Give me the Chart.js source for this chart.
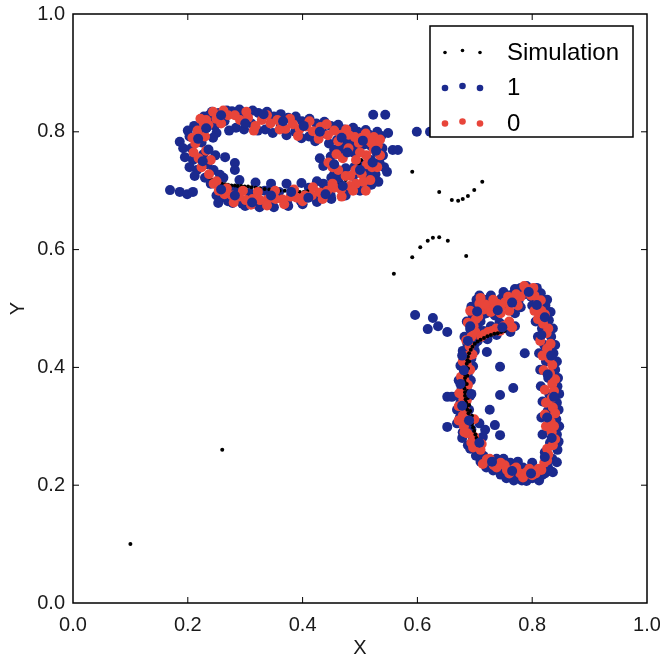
<!DOCTYPE html>
<html>
<head>
<meta charset="utf-8">
<script src="https://cdn.jsdelivr.net/npm/chart.js@4.4.1/dist/chart.umd.min.js"></script>
<style>
  html, body { margin: 0; padding: 0; background: #fff; }
  canvas { display: block; }
</style>
</head>
<body>
<canvas id="chart" width="660" height="660"></canvas>
<script>
const tickValues = [0, 0.2, 0.4, 0.6, 0.8, 1];
const seriesNames = ["Simulation", "1", "0"];
const seriesColors = ["#000000", "#1b2a8e", "#e8453a"];

// simulated trajectory: two lone points, the two arcs and the trace inside the lower loop
const simulation = [
  [0.1, 0.1], [0.26, 0.26],
  [0.591, 0.732], [0.638, 0.698], [0.660, 0.684], [0.671, 0.683], [0.679, 0.686], [0.688, 0.691],
  [0.699, 0.701], [0.713, 0.715],
  [0.559, 0.559], [0.591, 0.587], [0.605, 0.604], [0.618, 0.615], [0.627, 0.620], [0.638, 0.621],
  [0.653, 0.615], [0.685, 0.589],
  [0.752, 0.462], [0.746, 0.460], [0.740, 0.458], [0.734, 0.457], [0.728, 0.455], [0.722, 0.453],
  [0.716, 0.450], [0.710, 0.447], [0.705, 0.444], [0.700, 0.440], [0.696, 0.435], [0.693, 0.430],
  [0.690, 0.424], [0.688, 0.418], [0.687, 0.412], [0.686, 0.406], [0.685, 0.400], [0.684, 0.394],
  [0.683, 0.388], [0.683, 0.382], [0.682, 0.376], [0.682, 0.370], [0.682, 0.364], [0.683, 0.358],
  [0.683, 0.352], [0.684, 0.346], [0.685, 0.340], [0.686, 0.334], [0.687, 0.328], [0.689, 0.322],
  [0.691, 0.316], [0.693, 0.310], [0.695, 0.304], [0.697, 0.298], [0.699, 0.292], [0.701, 0.286],
  [0.703, 0.280], [0.705, 0.274], [0.708, 0.268],
  [0.690, 0.410], [0.688, 0.398], [0.687, 0.386], [0.686, 0.372], [0.687, 0.360], [0.688, 0.348],
  [0.690, 0.336], [0.692, 0.326], [0.695, 0.318]
];

// simulated trace running along the inside of the upper loop (partly hidden by the markers)
const simulationUpper = [
  [0.238, 0.722], [0.243, 0.718], [0.248, 0.716], [0.254, 0.713], [0.259, 0.712], [0.265, 0.711],
  [0.270, 0.710], [0.276, 0.709], [0.282, 0.709], [0.287, 0.708], [0.293, 0.708], [0.299, 0.707],
  [0.305, 0.707], [0.311, 0.706], [0.318, 0.705], [0.326, 0.704], [0.334, 0.703], [0.342, 0.702],
  [0.351, 0.701], [0.360, 0.700], [0.369, 0.700], [0.378, 0.699], [0.387, 0.699], [0.395, 0.698],
  [0.402, 0.698], [0.409, 0.699], [0.416, 0.700], [0.424, 0.701], [0.432, 0.702], [0.440, 0.703],
  [0.448, 0.704], [0.456, 0.706], [0.463, 0.709], [0.469, 0.713], [0.475, 0.718], [0.480, 0.723],
  [0.485, 0.728], [0.490, 0.734], [0.494, 0.740], [0.498, 0.746], [0.502, 0.752], [0.506, 0.758],
  [0.510, 0.763]
];

// class "1", upper-left loop
const class1Upper = [
  [0.224, 0.814], [0.237, 0.828], [0.247, 0.810], [0.254, 0.832], [0.264, 0.818], [0.277, 0.835],
  [0.284, 0.807], [0.298, 0.830], [0.311, 0.814], [0.323, 0.832], [0.335, 0.804], [0.350, 0.826],
  [0.362, 0.810], [0.375, 0.824], [0.387, 0.800], [0.399, 0.818], [0.411, 0.792], [0.424, 0.814],
  [0.436, 0.798], [0.449, 0.810], [0.460, 0.786], [0.472, 0.804], [0.485, 0.784], [0.496, 0.800],
  [0.506, 0.778], [0.516, 0.795], [0.527, 0.782], [0.537, 0.793], [0.539, 0.772],
  [0.228, 0.826], [0.242, 0.834], [0.268, 0.836], [0.290, 0.838], [0.313, 0.836], [0.338, 0.834],
  [0.362, 0.830], [0.388, 0.826], [0.412, 0.822], [0.438, 0.817], [0.462, 0.812], [0.488, 0.807],
  [0.510, 0.803], [0.530, 0.800],
  [0.250, 0.798], [0.272, 0.802], [0.298, 0.804], [0.322, 0.802], [0.348, 0.798], [0.372, 0.794],
  [0.398, 0.789], [0.422, 0.784], [0.446, 0.780], [0.470, 0.777], [0.494, 0.774],
  [0.529, 0.765], [0.519, 0.752], [0.534, 0.748], [0.514, 0.735], [0.527, 0.728], [0.503, 0.745],
  [0.488, 0.765], [0.467, 0.770], [0.449, 0.758], [0.436, 0.742], [0.455, 0.728], [0.475, 0.738],
  [0.540, 0.760], [0.542, 0.740], [0.532, 0.715], [0.510, 0.705], [0.495, 0.786], [0.470, 0.786],
  [0.455, 0.770], [0.430, 0.755], [0.520, 0.775], [0.490, 0.740],
  [0.513, 0.722], [0.498, 0.708], [0.488, 0.725], [0.475, 0.700], [0.462, 0.718], [0.449, 0.692],
  [0.436, 0.712], [0.424, 0.688], [0.411, 0.705], [0.397, 0.682], [0.385, 0.700], [0.373, 0.680],
  [0.359, 0.698], [0.346, 0.678], [0.334, 0.700], [0.322, 0.676], [0.308, 0.696], [0.295, 0.678],
  [0.283, 0.702], [0.270, 0.682], [0.260, 0.706], [0.250, 0.692], [0.240, 0.712],
  [0.258, 0.688], [0.278, 0.679], [0.300, 0.674], [0.325, 0.672], [0.350, 0.672], [0.375, 0.674],
  [0.400, 0.677], [0.425, 0.681], [0.450, 0.686], [0.475, 0.692], [0.500, 0.700], [0.520, 0.710],
  [0.262, 0.722], [0.290, 0.718], [0.318, 0.714], [0.345, 0.712], [0.372, 0.712], [0.398, 0.713],
  [0.425, 0.716], [0.450, 0.722], [0.470, 0.728],
  [0.230, 0.722], [0.216, 0.735], [0.234, 0.745], [0.209, 0.752], [0.227, 0.762], [0.206, 0.772],
  [0.224, 0.782], [0.203, 0.792], [0.219, 0.800], [0.211, 0.810], [0.232, 0.806],
  [0.203, 0.740], [0.212, 0.725], [0.245, 0.735], [0.248, 0.760], [0.244, 0.790], [0.200, 0.802],
  [0.240, 0.820],
  [0.169, 0.701], [0.186, 0.698], [0.199, 0.694], [0.209, 0.698], [0.186, 0.783], [0.192, 0.772],
  [0.195, 0.757], [0.265, 0.757], [0.282, 0.747], [0.282, 0.735], [0.256, 0.727], [0.253, 0.679],
  [0.544, 0.829], [0.523, 0.829], [0.549, 0.798], [0.557, 0.769], [0.566, 0.769], [0.547, 0.732],
  [0.599, 0.800], [0.622, 0.800]
];

// class "1", lower-right loop
const class1Lower = [
  [0.705, 0.505], [0.696, 0.490], [0.710, 0.478], [0.692, 0.465], [0.706, 0.452], [0.687, 0.440],
  [0.700, 0.428], [0.684, 0.415], [0.697, 0.402], [0.681, 0.390], [0.693, 0.378], [0.677, 0.365],
  [0.692, 0.352], [0.675, 0.340], [0.690, 0.328], [0.674, 0.315], [0.688, 0.302], [0.679, 0.290],
  [0.697, 0.280], [0.688, 0.268], [0.706, 0.262], [0.702, 0.250],
  [0.703, 0.515], [0.694, 0.503], [0.714, 0.490], [0.686, 0.478], [0.705, 0.466], [0.682, 0.452],
  [0.700, 0.440], [0.679, 0.428], [0.694, 0.415], [0.675, 0.403], [0.688, 0.390], [0.672, 0.378],
  [0.686, 0.366], [0.670, 0.352], [0.684, 0.340], [0.669, 0.328], [0.682, 0.316], [0.669, 0.305],
  [0.694, 0.295], [0.708, 0.305], [0.714, 0.282], [0.703, 0.274], [0.678, 0.280], [0.692, 0.262],
  [0.715, 0.250], [0.725, 0.236], [0.738, 0.245], [0.749, 0.228], [0.762, 0.238], [0.772, 0.218],
  [0.784, 0.230], [0.794, 0.212], [0.804, 0.225], [0.817, 0.217], [0.827, 0.232], [0.764, 0.216],
  [0.782, 0.208],
  [0.710, 0.240], [0.720, 0.230], [0.732, 0.225], [0.745, 0.218], [0.755, 0.212], [0.768, 0.208],
  [0.790, 0.207], [0.800, 0.212], [0.812, 0.208], [0.822, 0.220], [0.832, 0.224], [0.750, 0.245],
  [0.775, 0.240], [0.800, 0.238],
  [0.835, 0.245], [0.844, 0.260], [0.831, 0.272], [0.843, 0.286], [0.829, 0.298], [0.842, 0.312],
  [0.827, 0.326], [0.843, 0.340], [0.830, 0.354], [0.844, 0.368], [0.828, 0.382], [0.840, 0.396],
  [0.824, 0.410], [0.837, 0.424], [0.821, 0.438], [0.833, 0.452], [0.817, 0.466], [0.829, 0.480],
  [0.812, 0.492], [0.823, 0.505], [0.808, 0.516], [0.815, 0.526], [0.802, 0.532],
  [0.822, 0.256], [0.846, 0.274], [0.818, 0.286], [0.847, 0.300], [0.816, 0.315], [0.846, 0.328],
  [0.818, 0.342], [0.847, 0.355], [0.815, 0.368], [0.845, 0.382], [0.814, 0.396], [0.843, 0.410],
  [0.812, 0.424], [0.840, 0.438], [0.810, 0.452], [0.836, 0.466], [0.806, 0.478], [0.832, 0.494],
  [0.800, 0.505], [0.826, 0.515], [0.798, 0.520], [0.808, 0.535], [0.790, 0.538],
  [0.786, 0.524], [0.776, 0.512], [0.768, 0.526], [0.756, 0.505], [0.746, 0.517], [0.733, 0.502],
  [0.723, 0.513], [0.715, 0.504],
  [0.780, 0.535], [0.770, 0.533], [0.760, 0.522], [0.750, 0.528], [0.740, 0.500], [0.728, 0.522],
  [0.716, 0.515], [0.708, 0.522], [0.780, 0.502], [0.770, 0.492], [0.735, 0.488], [0.720, 0.492],
  [0.715, 0.462], [0.728, 0.470], [0.743, 0.476], [0.756, 0.468],
  [0.705, 0.445], [0.722, 0.448], [0.738, 0.455], [0.762, 0.460], [0.770, 0.470],
  [0.596, 0.489], [0.627, 0.484], [0.618, 0.465], [0.636, 0.470], [0.652, 0.460],
  [0.652, 0.350], [0.660, 0.350], [0.652, 0.299],
  [0.721, 0.426], [0.744, 0.401], [0.787, 0.424], [0.767, 0.365], [0.744, 0.353],
  [0.836, 0.222], [0.843, 0.239],
  [0.726, 0.328], [0.735, 0.302], [0.744, 0.285], [0.718, 0.294]
];

// class "1" points that lie above the class "0" markers
const class1Over = [
  [0.232, 0.806], [0.258, 0.828], [0.300, 0.814], [0.332, 0.830], [0.366, 0.818], [0.402, 0.810],
  [0.430, 0.800], [0.468, 0.790], [0.505, 0.785], [0.528, 0.768], [0.522, 0.748], [0.500, 0.735],
  [0.478, 0.765], [0.455, 0.745], [0.470, 0.708], [0.440, 0.694], [0.410, 0.688], [0.380, 0.698],
  [0.345, 0.692], [0.312, 0.680], [0.282, 0.692], [0.258, 0.702], [0.226, 0.750], [0.218, 0.788],
  [0.236, 0.770],
  [0.704, 0.495], [0.692, 0.470], [0.688, 0.445], [0.678, 0.420], [0.681, 0.395], [0.675, 0.372],
  [0.694, 0.355], [0.678, 0.335], [0.690, 0.310], [0.708, 0.272], [0.730, 0.240], [0.765, 0.224],
  [0.798, 0.220], [0.822, 0.248], [0.834, 0.280], [0.826, 0.315], [0.838, 0.350], [0.827, 0.388],
  [0.833, 0.420], [0.816, 0.455], [0.822, 0.485], [0.808, 0.506], [0.794, 0.528], [0.765, 0.510],
  [0.740, 0.497], [0.748, 0.468]
];

// class "0", upper-left loop
const class0Upper = [
  [0.232, 0.820], [0.244, 0.834], [0.258, 0.814], [0.270, 0.828], [0.291, 0.820], [0.305, 0.824],
  [0.318, 0.810], [0.329, 0.820], [0.344, 0.814], [0.356, 0.820], [0.370, 0.805], [0.383, 0.813],
  [0.395, 0.805], [0.406, 0.809], [0.418, 0.801], [0.431, 0.808], [0.444, 0.794], [0.455, 0.802],
  [0.467, 0.795], [0.480, 0.795], [0.491, 0.791], [0.503, 0.790], [0.513, 0.786], [0.524, 0.791],
  [0.531, 0.777],
  [0.236, 0.812], [0.250, 0.822], [0.262, 0.836], [0.282, 0.828], [0.302, 0.834], [0.315, 0.802],
  [0.338, 0.828], [0.360, 0.804], [0.378, 0.822], [0.392, 0.793], [0.412, 0.818], [0.428, 0.788],
  [0.442, 0.813], [0.462, 0.784], [0.476, 0.804], [0.498, 0.781], [0.510, 0.797], [0.520, 0.781],
  [0.524, 0.770], [0.521, 0.740], [0.511, 0.760], [0.493, 0.752], [0.480, 0.772], [0.459, 0.762],
  [0.445, 0.748], [0.462, 0.735], [0.483, 0.725], [0.503, 0.728],
  [0.535, 0.787], [0.535, 0.760], [0.530, 0.740], [0.512, 0.745], [0.500, 0.765], [0.470, 0.755],
  [0.452, 0.740], [0.475, 0.725], [0.492, 0.735], [0.518, 0.718],
  [0.506, 0.715], [0.493, 0.712], [0.482, 0.708], [0.467, 0.702], [0.455, 0.705], [0.443, 0.700],
  [0.430, 0.697], [0.416, 0.692], [0.404, 0.692], [0.390, 0.688], [0.379, 0.690], [0.365, 0.685],
  [0.353, 0.686], [0.339, 0.685], [0.326, 0.684], [0.313, 0.686], [0.301, 0.684], [0.289, 0.690],
  [0.277, 0.692], [0.264, 0.694], [0.254, 0.700],
  [0.250, 0.716], [0.268, 0.704], [0.280, 0.680], [0.296, 0.700], [0.310, 0.676], [0.322, 0.698],
  [0.338, 0.675], [0.352, 0.700], [0.368, 0.677], [0.385, 0.702], [0.400, 0.682], [0.418, 0.706],
  [0.435, 0.686], [0.452, 0.712], [0.468, 0.690], [0.488, 0.700], [0.510, 0.700],
  [0.237, 0.728], [0.224, 0.740], [0.219, 0.755], [0.232, 0.768], [0.213, 0.780], [0.230, 0.792],
  [0.217, 0.802], [0.228, 0.814],
  [0.210, 0.765], [0.240, 0.752], [0.208, 0.790], [0.222, 0.822], [0.245, 0.712]
];

// class "0", lower-right loop
const class0Lower = [
  [0.714, 0.498], [0.702, 0.482], [0.698, 0.470], [0.694, 0.452], [0.691, 0.436], [0.689, 0.420],
  [0.686, 0.405], [0.684, 0.392], [0.682, 0.378], [0.684, 0.360], [0.680, 0.345], [0.682, 0.330],
  [0.679, 0.318], [0.681, 0.300], [0.687, 0.288], [0.694, 0.272], [0.710, 0.260],
  [0.708, 0.508], [0.692, 0.496], [0.706, 0.486], [0.688, 0.476], [0.701, 0.460], [0.685, 0.446],
  [0.696, 0.422], [0.679, 0.410], [0.692, 0.396], [0.676, 0.384], [0.688, 0.370], [0.673, 0.356],
  [0.686, 0.344], [0.672, 0.334], [0.684, 0.320], [0.672, 0.310], [0.699, 0.312], [0.682, 0.290],
  [0.699, 0.282], [0.712, 0.270], [0.697, 0.264],
  [0.721, 0.244], [0.733, 0.234], [0.745, 0.238], [0.756, 0.226], [0.769, 0.228], [0.779, 0.220],
  [0.790, 0.222], [0.800, 0.217], [0.811, 0.228], [0.821, 0.238],
  [0.714, 0.236], [0.726, 0.245], [0.738, 0.230], [0.752, 0.234], [0.760, 0.220], [0.772, 0.230],
  [0.784, 0.213], [0.795, 0.228], [0.806, 0.220], [0.816, 0.226], [0.826, 0.242],
  [0.828, 0.252], [0.836, 0.268], [0.834, 0.290], [0.832, 0.308], [0.836, 0.332], [0.834, 0.348],
  [0.835, 0.372], [0.831, 0.390], [0.830, 0.415], [0.826, 0.432], [0.825, 0.458], [0.819, 0.474],
  [0.816, 0.496], [0.810, 0.508], [0.804, 0.522], [0.796, 0.532],
  [0.826, 0.262], [0.840, 0.278], [0.824, 0.300], [0.838, 0.300], [0.822, 0.320], [0.840, 0.322],
  [0.824, 0.340], [0.838, 0.360], [0.822, 0.362], [0.840, 0.380], [0.820, 0.395], [0.835, 0.404],
  [0.818, 0.420], [0.832, 0.440], [0.814, 0.445], [0.828, 0.466], [0.810, 0.482], [0.822, 0.490],
  [0.804, 0.496], [0.815, 0.514], [0.798, 0.522], [0.802, 0.535],
  [0.790, 0.530], [0.780, 0.520], [0.766, 0.514], [0.752, 0.510], [0.739, 0.508], [0.725, 0.503],
  [0.786, 0.538], [0.772, 0.524], [0.758, 0.520], [0.745, 0.503], [0.732, 0.515], [0.718, 0.507],
  [0.710, 0.518], [0.775, 0.505], [0.760, 0.496], [0.745, 0.492], [0.728, 0.494],
  [0.711, 0.452], [0.723, 0.460], [0.737, 0.466], [0.750, 0.470], [0.760, 0.478],
  [0.716, 0.456], [0.730, 0.462], [0.744, 0.462], [0.755, 0.472], [0.765, 0.468]
];

const toPoints = pairs => pairs.map(p => ({ x: p[0], y: p[1] }));

// box frame with inward tick marks on all four sides
const framePlugin = {
  id: "frame",
  afterDatasetsDraw(chart) {
    const { ctx, chartArea: a, scales } = chart;
    ctx.save();
    ctx.strokeStyle = "#000";
    ctx.lineWidth = 1.5;
    ctx.strokeRect(a.left, a.top, a.right - a.left, a.bottom - a.top);
    ctx.lineWidth = 1;
    ctx.beginPath();
    tickValues.slice(1, -1).forEach(v => {
      const x = scales.x.getPixelForValue(v);
      const y = scales.y.getPixelForValue(v);
      ctx.moveTo(x, a.bottom); ctx.lineTo(x, a.bottom - 6);
      ctx.moveTo(x, a.top); ctx.lineTo(x, a.top + 6);
      ctx.moveTo(a.left, y); ctx.lineTo(a.left + 6, y);
      ctx.moveTo(a.right, y); ctx.lineTo(a.right - 6, y);
    });
    ctx.stroke();
    ctx.restore();
  }
};

// legend box: three dots per entry, as in the plotting tool's legend
const legendPlugin = {
  id: "dotLegend",
  afterDraw(chart) {
    const { ctx, chartArea: a } = chart;
    const w = 203, h = 111;
    const left = a.right - 14 - w, top = a.top + 12;
    ctx.save();
    ctx.fillStyle = "#fff";
    ctx.fillRect(left, top, w, h);
    ctx.strokeStyle = "#000";
    ctx.lineWidth = 1.5;
    ctx.strokeRect(left, top, w, h);
    ctx.font = "24px 'Liberation Sans', Arial, sans-serif";
    ctx.textBaseline = "middle";
    ctx.textAlign = "left";
    seriesNames.forEach((name, i) => {
      const y = top + 26 + i * 35.5;
      const r = i === 0 ? 1.8 : 3.3;
      ctx.fillStyle = seriesColors[i];
      [0, 17.5, 35].forEach((dx, k) => {
        ctx.beginPath();
        ctx.arc(left + 15 + dx, y + (k === 1 ? -1.5 : 0.5), r, 0, Math.PI * 2);
        ctx.fill();
      });
      ctx.fillStyle = "#000";
      ctx.fillText(name, left + 77, y + 1);
    });
    ctx.restore();
  }
};

const tickFont = { family: "'Liberation Sans', Arial, sans-serif", size: 20 };

const dotSet = (label, pairs, color, radius, order) => ({
  label,
  data: toPoints(pairs),
  pointRadius: radius,
  pointBorderWidth: 0,
  backgroundColor: color,
  borderColor: color,
  order
});

// lower order is painted later (on top)
new Chart(document.getElementById("chart"), {
  type: "scatter",
  data: {
    datasets: [
      dotSet(seriesNames[0], simulation, seriesColors[0], 2, 1.5),
      dotSet(seriesNames[1], class1Upper.concat(class1Lower), seriesColors[1], 5, 4),
      dotSet(seriesNames[2], class0Upper.concat(class0Lower), seriesColors[2], 5, 2),
      dotSet(seriesNames[1], class1Over, seriesColors[1], 5, 1),
      dotSet(seriesNames[0], simulationUpper, seriesColors[0], 2, 3)
    ]
  },
  options: {
    responsive: false,
    animation: false,
    events: [],
    devicePixelRatio: 1,
    layout: { padding: { top: 14, right: 13, left: 0, bottom: 0 } },
    plugins: { legend: { display: false }, tooltip: { enabled: false } },
    scales: {
      x: {
        type: "linear",
        min: 0,
        max: 1,
        afterBuildTicks: s => { s.ticks = tickValues.map(v => ({ value: v })); },
        afterFit: s => { s.height = 57; s.paddingLeft = 0; s.paddingRight = 0; },
        grid: { display: false, drawTicks: false },
        border: { display: false },
        ticks: {
          padding: 10,
          color: "#1a1a1a",
          font: tickFont,
          maxRotation: 0,
          autoSkip: false,
          callback: v => v.toFixed(1)
        },
        title: {
          display: true,
          text: "X",
          color: "#1a1a1a",
          font: tickFont,
          padding: { top: 0, bottom: 0 }
        }
      },
      y: {
        type: "linear",
        min: 0,
        max: 1,
        afterBuildTicks: s => { s.ticks = tickValues.map(v => ({ value: v })); },
        afterFit: s => { s.width = 73; s.paddingTop = 0; s.paddingBottom = 0; },
        grid: { display: false, drawTicks: false },
        border: { display: false },
        ticks: {
          padding: 8,
          color: "#1a1a1a",
          font: tickFont,
          autoSkip: false,
          callback: v => v.toFixed(1)
        },
        title: {
          display: true,
          text: "Y",
          color: "#1a1a1a",
          font: tickFont,
          padding: { top: 6, bottom: 0 }
        }
      }
    }
  },
  plugins: [framePlugin, legendPlugin]
});
</script>
</body>
</html>
